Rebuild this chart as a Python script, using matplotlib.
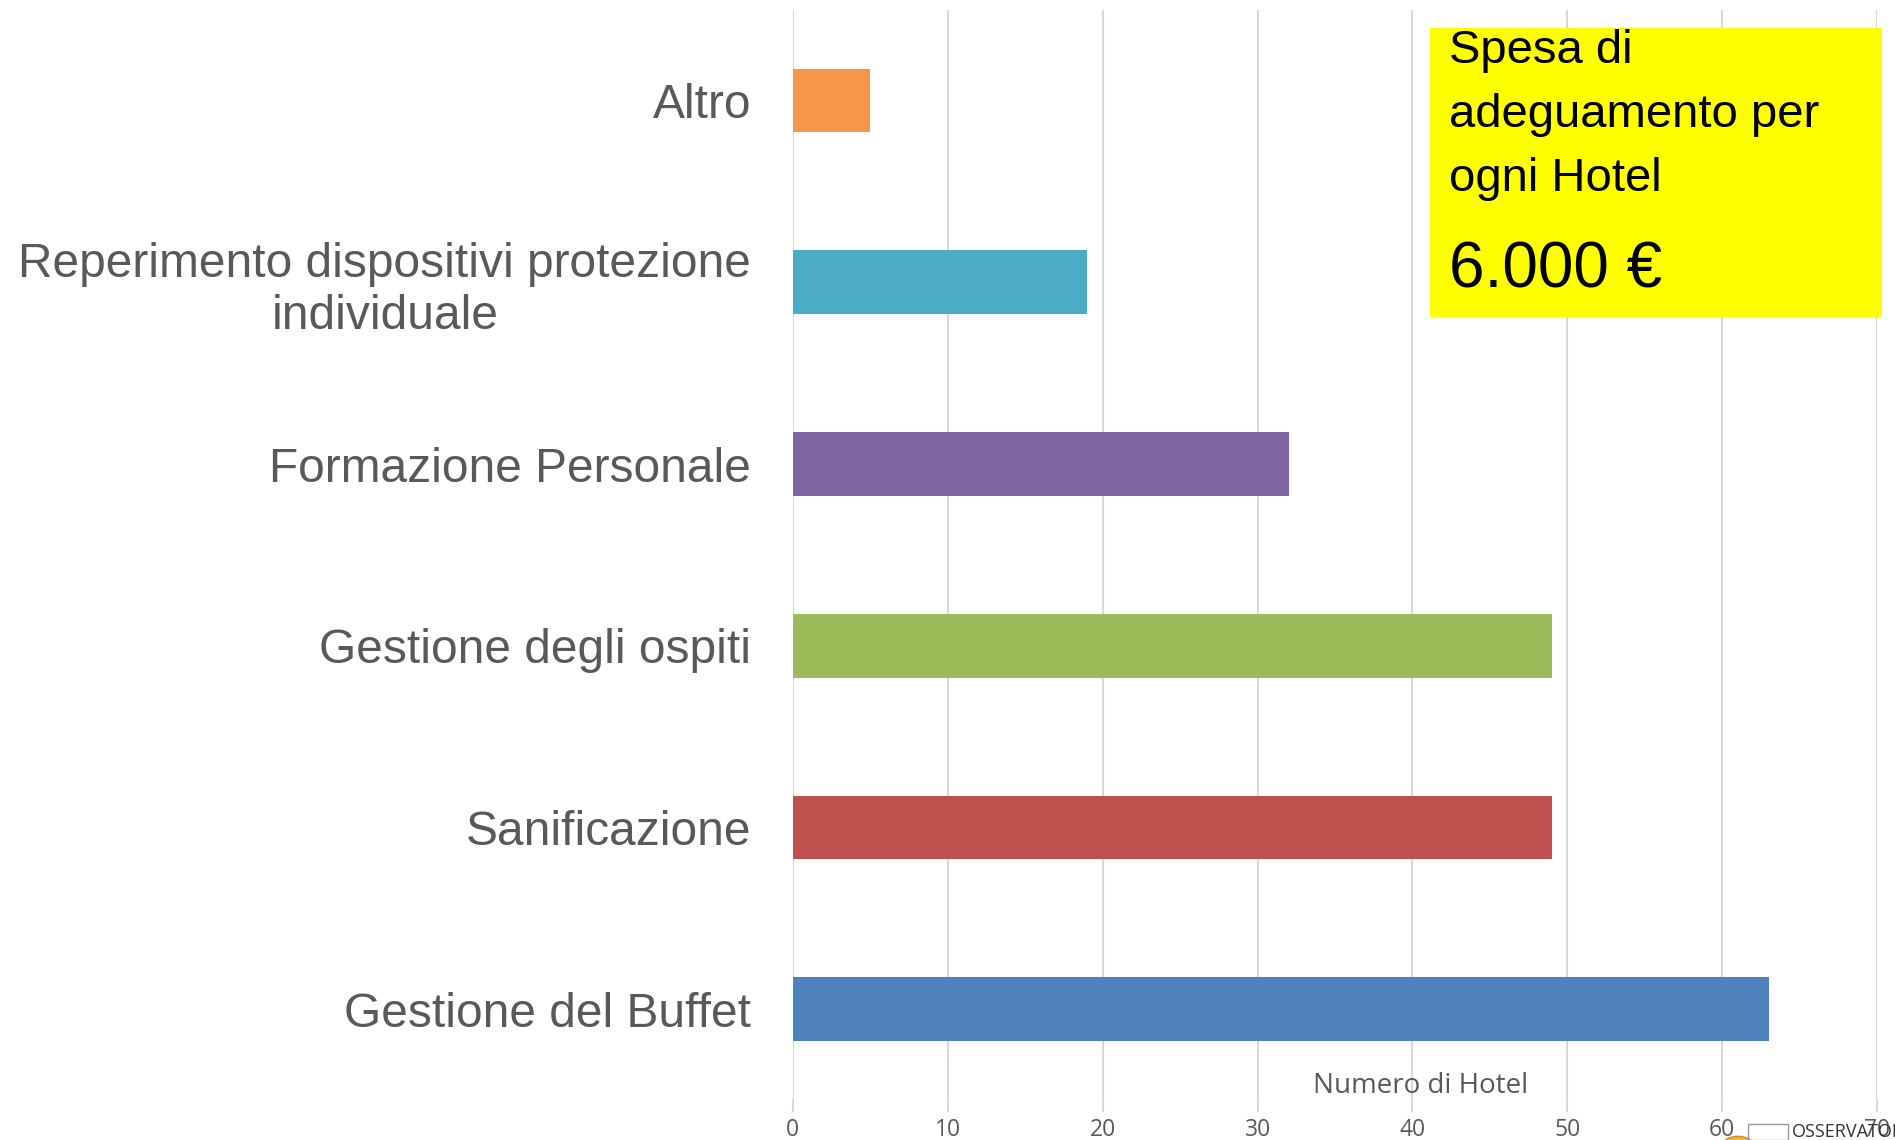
import matplotlib
matplotlib.use("Agg")
import matplotlib.pyplot as plt

# categories from bottom to top
categorie = ["Gestione del Buffet", "Sanificazione", "Gestione degli ospiti",
             "Formazione Personale",
             "Reperimento dispositivi protezione\nindividuale", "Altro"]
valori = [63, 49, 49, 32, 19, 5]
colori = ["#4F81BD", "#C0504D", "#9BBB59", "#8064A2", "#4BACC6", "#F79646"]
tick_x = [0, 10, 20, 30, 40, 50, 60, 70]

plt.rcParams["font.family"] = ["Liberation Sans", "DejaVu Sans"]

fig = plt.figure(figsize=(18.95, 11.4), dpi=100)
ax = fig.add_axes([0.4184, 0.035, 0.5722, 0.9565])

ax.barh(range(len(categorie)), valori, height=0.35, color=colori, zorder=2)
ax.set_ylim(-0.5, len(categorie) - 0.5)
ax.set_xlim(0, 70)
ax.set_yticks(range(len(categorie)))
ax.set_yticklabels(categorie, fontsize=34.5, color="#595959",
                   multialignment="center")
ax.tick_params(axis="y", length=0, pad=30)
ax.set_xticks(tick_x)
ax.set_xticklabels([])
ax.tick_params(axis="x", length=0)
ax.grid(axis="x", color="#d9d9d9", linewidth=1.5, zorder=0)
for s in ax.spines.values():
    s.set_visible(False)

# grid runs a little below the plot area, tick labels under it
for t in tick_x:
    ax.plot([t, t], [-0.5, -0.56], color="#d9d9d9", linewidth=1.5,
            clip_on=False, zorder=0)
    ax.annotate(str(t), (t, 0), xycoords=("data", "figure fraction"),
                xytext=(0, 1140 - 1130), textcoords="offset pixels",
                ha="center", va="center", fontsize=16.5, color="#595959",
                family=["Open Sans", "DejaVu Sans"], annotation_clip=False)

ax.text(40.5, -0.5, "Numero di Hotel", ha="center", va="bottom",
        fontsize=20, color="#595959", family=["Open Sans", "DejaVu Sans"])

# yellow box
fig.patches.append(plt.Rectangle((1430 / 1895, 1 - 317 / 1140), 452 / 1895,
                                 289 / 1140, transform=fig.transFigure,
                                 facecolor="#FFFF00", edgecolor="none",
                                 zorder=3))
fig.text(1449 / 1895, 1 - 63 / 1140, "Spesa di", fontsize=34, color="black",
         va="baseline", zorder=4)
fig.text(1449 / 1895, 1 - 127 / 1140, "adeguamento per", fontsize=34,
         color="black", va="baseline", zorder=4)
fig.text(1449 / 1895, 1 - 191 / 1140, "ogni Hotel", fontsize=34,
         color="black", va="baseline", zorder=4)
fig.text(1449 / 1895, 1 - 287 / 1140, "6.000 €", fontsize=46, color="black",
         va="baseline", zorder=4)

# logo fragment in the corner
fig.patches.append(plt.Circle((1738 / 1895, 1 - 1146 / 1140), 16 / 1895,
                              transform=fig.transFigure, facecolor="#E8B830",
                              edgecolor="#C89020", zorder=1))
fig.patches.append(plt.Rectangle((1748 / 1895, 1 - 1140 / 1140), 40 / 1895,
                                 16 / 1140, transform=fig.transFigure,
                                 facecolor="none", edgecolor="#999999",
                                 linewidth=1, zorder=1))
fig.text(1792 / 1895, 1 - 1137 / 1140, "OSSERVATORIO", fontsize=13,
         color="#333333", va="baseline", family=["Open Sans", "DejaVu Sans"])

fig.savefig("out.png", dpi=100)
